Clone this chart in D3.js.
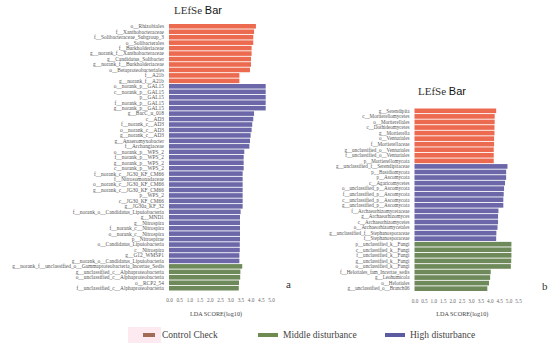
<!DOCTYPE html>
<html>
<head>
<meta charset="utf-8">
<script src="https://cdn.jsdelivr.net/npm/d3@7"></script>
<style>
  body { margin: 0; background: #fff; }
  svg { display: block; }
  .taxon { font-family: "Liberation Serif", serif; fill: #555; }
  .tick text { font-family: "Liberation Serif", serif; fill: #666; }
</style>
</head>
<body>
<script>
// panel a: bacteria
const leftTaxa = [
  "o__Rhizobiales", "f__Xanthobacteraceae", "f__Solibacteraceae_Subgroup_3", "o__Solibacterales",
  "f__Burkholderiaceae", "g__norank_f__Xanthobacteraceae", "g__Candidatus_Solibacter",
  "g__norank_f__Burkholderiaceae", "o__Betaproteobacteriales", "f__A21b", "g__norank_f__A21b",
  "o__norank_p__GAL15", "c__norank_p__GAL15", "p__GAL15", "f__norank_p__GAL15", "g__norank_p__GAL15",
  "g__BacC_u_018", "c__AD3", "f__norank_c__AD3", "o__norank_c__AD3", "g__norank_c__AD3",
  "g__Anaeromyxobacter", "f__Archangiaceae", "o__norank_p__WPS_2", "f__norank_p__WPS_2",
  "g__norank_p__WPS_2", "c__norank_p__WPS_2", "f__norank_c__JG30_KF_CM66", "f__Nitrosomonadaceae",
  "o__norank_c__JG30_KF_CM66", "g__norank_c__JG30_KF_CM66", "p__WPS_2", "c__JG30_KF_CM66",
  "g__JG30a_KF_32", "f__norank_o__Candidatus_Lipuiobacteria", "g__MND1", "g__Nitrospira",
  "f__norank_c__Nitrospira", "o__norank_c__Nitrospira", "p__Nitrospirae",
  "o__Candidatus_Lipuiobacteria", "c__Nitrospira", "g__G12_WMSP1",
  "g__norank_o__Candidatus_Lipuiobacteria",
  "g__norank_f__unclassified_o__Gammaproteobacteria_Incertae_Sedis",
  "g__unclassified_c__Alphaproteobacteria", "o__unclassified_c__Alphaproteobacteria",
  "o__RCP2_54", "f__unclassified_c__Alphaproteobacteria"
];
const leftScores = [
  4.26, 4.17, 4.13, 4.13, 4.05, 4.05, 4.02, 4.02, 3.97, 3.45, 3.45,
  4.74, 4.74, 4.74, 4.74, 4.74,
  4.17, 4.13, 4.08, 4.05, 4.00, 3.97, 3.94, 3.69, 3.66, 3.66, 3.66,
  3.61, 3.61, 3.61, 3.61, 3.61, 3.61, 3.61, 3.51, 3.48, 3.48, 3.48, 3.48, 3.48,
  3.47, 3.47, 3.45, 3.45,
  3.59, 3.50, 3.49, 3.43, 3.42
];
const leftGroups = [
  ...Array(11).fill("CK"), ...Array(33).fill("HD"), ...Array(5).fill("MD")
];

// panel b: fungi
const rightTaxa = [
  "g__Serendipita", "c__Mortierellomycetes", "o__Mortierellales", "c__Dothideomycetes",
  "g__Mortierella", "o__Venturiales", "f__Mortierellaceae", "g__unclassified_o__Venturiales",
  "f__unclassified_o__Venturiales", "p__Mortierellomycota",
  "g__unclassified_f__Serendipitaceae", "p__Basidiomycota", "p__Ascomycota", "c__Agaricomycetes",
  "o__unclassified_p__Ascomycota", "f__unclassified_p__Ascomycota", "c__unclassified_p__Ascomycota",
  "g__unclassified_p__Ascomycota", "f__Archaeorhizomycetaceae", "g__Archaeorhizomyces",
  "c__Archaeorhizomycetes", "o__Archaeorhizomycetales", "g__unclassified_f__Stephanosporaceae",
  "f__Stephanosporaceae",
  "p__unclassified_k__Fungi", "c__unclassified_k__Fungi", "f__unclassified_k__Fungi",
  "g__unclassified_k__Fungi", "o__unclassified_k__Fungi", "f__Helotiales_fam_Incertae_sedis",
  "g__Leohumicola", "o__Helotiales", "g__unclassified_o__Branch06"
];
const rightScores = [
  4.34, 4.26, 4.26, 4.25, 4.25, 4.23, 4.23, 4.21, 4.21, 4.21,
  4.94, 4.87, 4.87, 4.81, 4.76, 4.74, 4.72, 4.72, 4.46, 4.44, 4.44, 4.41, 4.35, 4.34,
  5.15, 5.15, 5.15, 5.14, 5.12, 4.05, 4.02, 3.96, 3.87
];
const rightGroups = [
  ...Array(10).fill("CK"), ...Array(14).fill("HD"), ...Array(9).fill("MD")
];

const groupKeys = ["CK", "MD", "HD"];
const groupNames = ["Control Check", "Middle disturbance", "High disturbance"];
const barColors = ["#ec6a4f", "#6e8a5a", "#6b67a8"];
const swatchColors = ["#a06c58", "#6f8b4f", "#5c5aa0"];

const width = 550;
const height = 343;

const svg = d3.select("body").append("svg")
  .attr("width", width)
  .attr("height", height);

const barColor = d3.scaleOrdinal().domain(groupKeys).range(barColors);

const drawPanel = (opts) => {
  const {taxa, scores, groups, xMax, xRange, yRange, titleX, titleY, letter, letterPos, labelSize} = opts;
  const rows = taxa.map((t, i) => ({taxon: t, score: scores[i], group: groups[i]}));

  const xScale = d3.scaleLinear().domain([0, xMax]).range(xRange);
  const yScale = d3.scaleBand().domain(taxa).range(yRange).paddingInner(0.16);

  const g = svg.append("g");

  g.selectAll("rect.bar")
    .data(rows)
    .enter()
    .append("rect")
    .attr("class", "bar")
    .attr("x", xScale(0))
    .attr("y", (d) => yScale(d.taxon))
    .attr("width", (d) => xScale(d.score) - xScale(0))
    .attr("height", yScale.bandwidth())
    .attr("fill", (d) => barColor(d.group));

  g.selectAll("text.taxon")
    .data(rows)
    .enter()
    .append("text")
    .attr("class", "taxon")
    .attr("x", xScale(0) - 5)
    .attr("y", (d) => yScale(d.taxon) + yScale.bandwidth() / 2)
    .attr("dy", "0.35em")
    .attr("text-anchor", "end")
    .attr("font-size", labelSize)
    .text((d) => d.taxon);

  const ticks = d3.range(0, xMax + 0.01, 0.5);
  const xAxis = d3.axisBottom(xScale)
    .tickValues(ticks)
    .tickFormat(d3.format(".1f"))
    .tickSize(0)
    .tickPadding(3);
  const axisG = g.append("g")
    .attr("transform", `translate(0, ${yRange[1] + 5})`)
    .call(xAxis);
  axisG.select(".domain").remove();
  axisG.selectAll("text").attr("font-size", 5.2);

  g.append("text")
    .attr("x", (xRange[0] + xRange[1]) / 2 - 4)
    .attr("y", yRange[1] + 25)
    .attr("text-anchor", "middle")
    .attr("font-family", "Liberation Serif, serif")
    .attr("font-size", 6.2)
    .attr("fill", "#444")
    .text("LDA SCORE(log10)");

  const title = g.append("text")
    .attr("x", titleX)
    .attr("y", titleY)
    .attr("text-anchor", "middle")
    .attr("font-size", 11)
    .attr("fill", "#333");
  title.append("tspan")
    .attr("font-family", "Liberation Serif, serif")
    .text("LEfSe ");
  title.append("tspan")
    .attr("font-family", "Liberation Sans, sans-serif")
    .attr("fill", "#111")
    .text("Bar");

  g.append("text")
    .attr("x", letterPos[0])
    .attr("y", letterPos[1])
    .attr("font-family", "Liberation Serif, serif")
    .attr("font-size", 11)
    .attr("fill", "#333")
    .text(letter);
};

drawPanel({
  taxa: leftTaxa, scores: leftScores, groups: leftGroups,
  xMax: 5, xRange: [169, 271], yRange: [24, 290.5],
  titleX: 198, titleY: 14, letter: "a", letterPos: [286, 288], labelSize: 5.4
});

drawPanel({
  taxa: rightTaxa, scores: rightScores, groups: rightGroups,
  xMax: 5.5, xRange: [414.5, 518], yRange: [108.5, 291],
  titleX: 442, titleY: 95, letter: "b", letterPos: [542, 290], labelSize: 5.1
});

// legend
svg.append("rect")
  .attr("x", 128).attr("y", 327)
  .attr("width", 33).attr("height", 16)
  .attr("fill", "#fdeaf1");

const legendX = [143, 258, 385];
const legend = svg.selectAll("g.legend")
  .data(groupNames)
  .enter()
  .append("g")
  .attr("class", "legend")
  .attr("transform", (d, i) => `translate(${legendX[i]}, 335)`);
legend.append("rect")
  .attr("x", 0)
  .attr("y", -2)
  .attr("width", (d, i) => i === 0 ? 12 : 20)
  .attr("height", 4)
  .attr("fill", (d, i) => swatchColors[i]);
legend.append("text")
  .attr("x", (d, i) => i === 0 ? 19 : 25)
  .attr("dy", "0.35em")
  .attr("font-family", "Liberation Serif, serif")
  .attr("font-size", 9.5)
  .attr("fill", "#444")
  .text((d) => d);
</script>
</body>
</html>
